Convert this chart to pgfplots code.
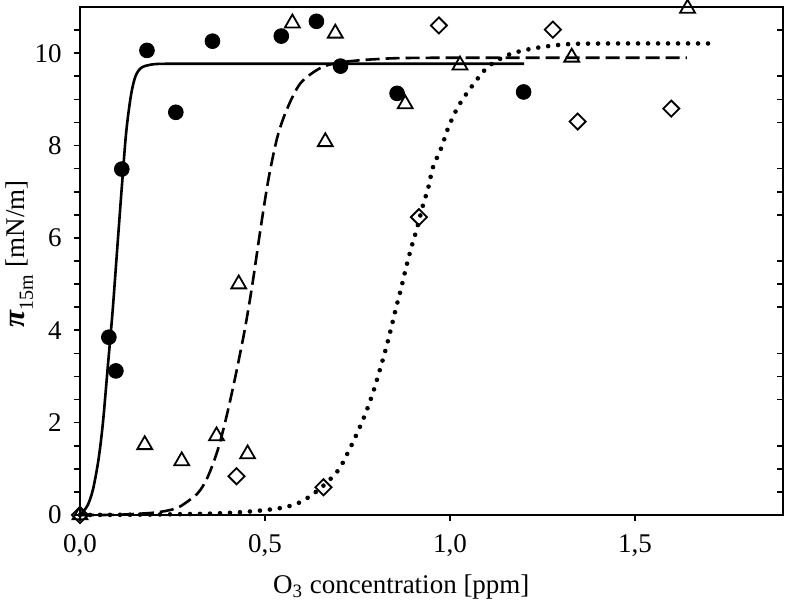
\documentclass[border=0pt]{standalone}
\usepackage{fontspec}
\setmainfont{Liberation Serif}
\usepackage{pgfplots}
\pgfplotsset{compat=1.18}

\begin{document}
\fontsize{13.5}{16}\selectfont
\begin{tikzpicture}
\pgfplotsset{
  frame/.style={
    at={(0,0)}, anchor=south west,
    scale only axis,
    width=351.5pt, height=254pt,
    xmin=0, xmax=1.9, ymin=0, ymax=11,
    axis line style={line width=0.9pt},
    tick style={line width=0.8pt, black},
  }
}
\begin{axis}[
  frame,
  clip=false,
  tick align=outside,
  major tick length=3pt, minor tick length=3pt,
  xtick={0,0.5,1,1.5},
  xticklabels={{0,0},{0,5},{1,0},{1,5}},
  xtick pos=bottom,
  ytick={0,2,...,10},
  minor ytick={0.5,1,...,10.5},
  ytick pos=left,
  /pgf/number format/assume math mode=true,
  ticklabel style={font=\fontsize{13.5}{16}\selectfont},
  yticklabel style={xshift=-1.5pt},
  xticklabel style={yshift=-2pt},
  xlabel={O\textsubscript{3} concentration [ppm]},
  xlabel style={at={(axis description cs:0.457,0)}, anchor=center, yshift=-36pt,
    font=\fontsize{13.5}{16}\selectfont},
  ylabel={{\fontsize{15.5}{17}\selectfont\bfseries\itshape π}\raisebox{-0.3em}{\fontsize{10}{12}\selectfont 15m}\hspace{4pt}[mN/m]},
  ylabel style={at={(axis description cs:-0.086,0.514)}, anchor=center,
    font=\fontsize{13.5}{16}\selectfont},
]
% measured points
\addplot[only marks, mark=*, mark size=3.7pt, black] coordinates {
  (0.078,3.85) (0.097,3.12) (0.113,7.49) (0.181,10.06) (0.259,8.72)
  (0.358,10.26) (0.544,10.37) (0.639,10.69) (0.704,9.72) (0.857,9.13)
  (1.199,9.16)
};
\addplot[only marks, mark=triangle, mark size=4.3pt, black,
  mark options={line width=0.9pt}] coordinates {
  (0,0) (0.175,1.52) (0.275,1.17) (0.369,1.71) (0.429,5.0) (0.453,1.32)
  (0.574,10.65) (0.663,8.08) (0.690,10.43) (0.879,8.9) (1.027,9.74)
  (1.329,9.91) (1.642,10.97)
};
\addplot[only marks, mark=square, mark size=2.85pt, black,
  mark options={rotate=45, line width=0.9pt}] coordinates {
  (0,0) (0.423,0.84) (0.658,0.60) (0.916,6.45) (0.970,10.6)
  (1.278,10.51) (1.345,8.52) (1.598,8.8)
};
% fitted curves
\addplot[black, line width=1.3pt, smooth] coordinates {
  (0,0) (0.02,0.2) (0.035,0.55) (0.05,1.2) (0.062,2.0) (0.075,3.2)
  (0.088,4.4) (0.1,5.7) (0.113,7.1) (0.125,8.3) (0.138,9.1) (0.15,9.5)
  (0.165,9.68) (0.19,9.75) (0.23,9.77) (0.4,9.77) (1.2,9.77)
};
\addplot[black, line width=1.3pt, dash pattern=on 7pt off 3pt, smooth] coordinates {
  (0,0) (0.1,0.005) (0.2,0.05) (0.25,0.12) (0.272,0.19) (0.318,0.47)
  (0.345,0.82) (0.372,1.4) (0.395,2.1) (0.42,3.0) (0.445,4.0) (0.466,5.0)
  (0.488,6.2) (0.51,7.3) (0.534,8.2) (0.56,8.8) (0.596,9.35) (0.65,9.68)
  (0.704,9.8) (0.8,9.87) (0.95,9.9) (1.64,9.9)
};
\addplot[black, line width=2.3pt, line cap=round, dash pattern=on 0pt off 5pt, smooth] coordinates {
  (0,0) (0.2,0.01) (0.35,0.03) (0.45,0.07) (0.542,0.15) (0.596,0.28)
  (0.65,0.58) (0.698,0.97) (0.73,1.45) (0.755,1.88) (0.776,2.29)
  (0.795,2.73) (0.811,3.16) (0.827,3.61) (0.841,4.05) (0.854,4.48)
  (0.868,4.91) (0.881,5.35) (0.895,5.78) (0.911,6.21) (0.925,6.65)
  (0.941,7.08) (0.954,7.53) (0.976,7.94) (0.995,8.38) (1.021,8.83)
  (1.057,9.26) (1.102,9.70) (1.156,9.96) (1.21,10.08) (1.264,10.15)
  (1.33,10.2) (1.45,10.21) (1.70,10.21)
};
\end{axis}
% inner ticks on the right-hand side
\begin{axis}[
  frame,
  xtick=\empty,
  ytick={0.5,1,1.5,2.5,3,3.5,4.5,5,5.5,6.5,7,7.5,8.5,9,9.5,10.5},
  yticklabels={},
  ytick pos=right,
  tick align=inside,
  major tick length=3pt,
]
\end{axis}
\pgfresetboundingbox
\path (-40pt,-47.5pt) rectangle (353pt,257.5pt);
\end{tikzpicture}
\end{document}
